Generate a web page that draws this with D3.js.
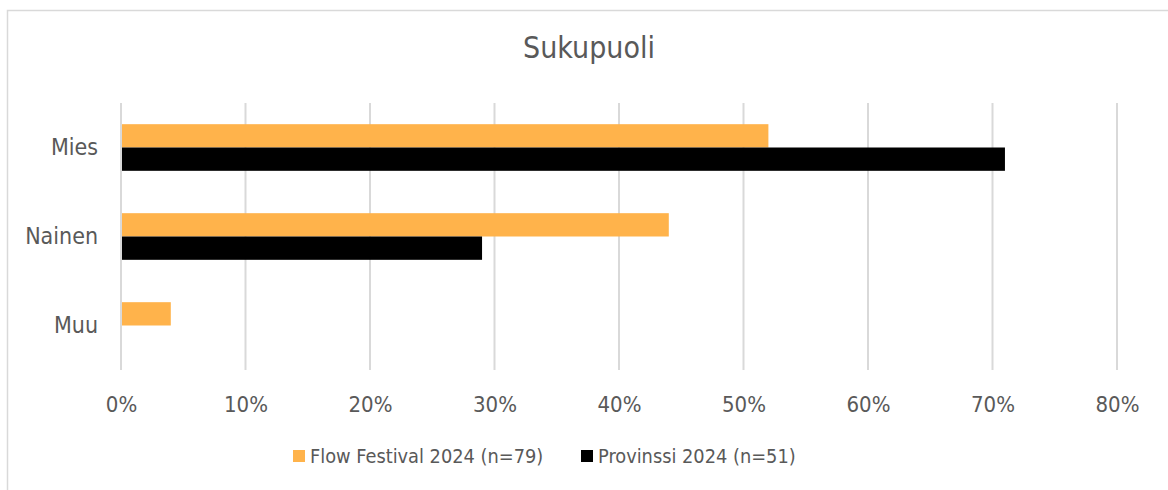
<!DOCTYPE html>
<html>
<head>
<meta charset="utf-8">
<script src="https://cdn.jsdelivr.net/npm/d3@7"></script>
<style>
  body { margin: 0; background: #fff; }
  text { font-family: "DejaVu Sans Condensed", "DejaVu Sans", sans-serif; fill: #595959; }
</style>
</head>
<body>
<div id="chart"></div>
<script>
// data
var categories = ["Mies", "Nainen", "Muu"];
var seriesNames = ["Flow Festival 2024 (n=79)", "Provinssi 2024 (n=51)"];
var flowValues = [52, 44, 4];
var provinssiValues = [71, 29, 0];
var xTicks = [0, 10, 20, 30, 40, 50, 60, 70, 80];
var colors = ["#FFB34B", "#000000"];

var width = 1168, height = 490;
var margin = {top: 103, left: 121};

var svg = d3.select("#chart")
    .append("svg")
    .attr("width", width)
    .attr("height", height);

// chart border
svg.append("rect")
    .attr("x", 7.5).attr("y", 10.5)
    .attr("width", width + 10).attr("height", height + 10)
    .attr("fill", "none")
    .attr("stroke", "#d9d9d9")
    .attr("stroke-width", 1.5);

var g = svg.append("g")
    .attr("transform", "translate(" + margin.left + "," + margin.top + ")");

var plotW = 996, plotH = 267;

var x = d3.scaleLinear().domain([0, 80]).range([0, plotW]);

var y = d3.scaleBand()
    .domain(categories)
    .range([0, plotH])
    .paddingInner(0.476)
    .paddingOuter(0.238);

var y1 = d3.scaleBand()
    .domain([0, 1])
    .range([0, y.bandwidth()]);

// gridlines
g.append("g")
    .selectAll("line")
    .data(xTicks)
    .enter()
    .append("line")
    .attr("x1", function(d) { return x(d); })
    .attr("x2", function(d) { return x(d); })
    .attr("y1", 0)
    .attr("y2", plotH)
    .attr("stroke", "#d9d9d9")
    .attr("stroke-width", 2);

var rows = categories.map(function(c, i) {
    return {cat: c, vals: [flowValues[i], provinssiValues[i]]};
});

var grp = g.append("g")
    .selectAll("g")
    .data(rows)
    .enter()
    .append("g")
    .attr("transform", function(d) { return "translate(0," + y(d.cat) + ")"; });

grp.selectAll("rect")
    .data(function(d) { return d.vals; })
    .enter()
    .append("rect")
    .attr("x", x(0) + 1)
    .attr("y", function(d, i) { return y1(i); })
    .attr("width", function(d) { return Math.max(0, x(d) - x(0) - 1); })
    .attr("height", y1.bandwidth())
    .attr("fill", function(d, i) { return colors[i]; });

// x axis labels
var xAxis = g.append("g")
    .attr("transform", "translate(0," + plotH + ")")
    .call(d3.axisBottom(x).tickValues(xTicks).tickFormat(function(d) { return d + "%"; }).tickSize(0).tickPadding(26));
xAxis.select(".domain").remove();
xAxis.selectAll("text")
    .style("font-size", "22px")
    .style("fill", "#595959");

// y axis labels
var yAxis = g.append("g")
    .call(d3.axisLeft(y).tickSize(0).tickPadding(23));
yAxis.select(".domain").remove();
yAxis.selectAll("text")
    .style("font-size", "23px")
    .style("fill", "#595959");

// title
svg.append("text")
    .attr("x", 589)
    .attr("y", 58)
    .attr("text-anchor", "middle")
    .style("font-size", "30px")
    .text("Sukupuoli");

// legend
var legendX = [293, 581];
var legend = svg.append("g")
    .selectAll("g")
    .data(seriesNames)
    .enter()
    .append("g")
    .attr("transform", function(d, i) { return "translate(" + legendX[i] + ",450)"; });

legend.append("rect")
    .attr("width", 12)
    .attr("height", 12)
    .attr("fill", function(d, i) { return colors[i]; });

legend.append("text")
    .attr("x", 17)
    .attr("y", 13)
    .style("font-size", "19.8px")
    .text(function(d) { return d; });
</script>
</body>
</html>
